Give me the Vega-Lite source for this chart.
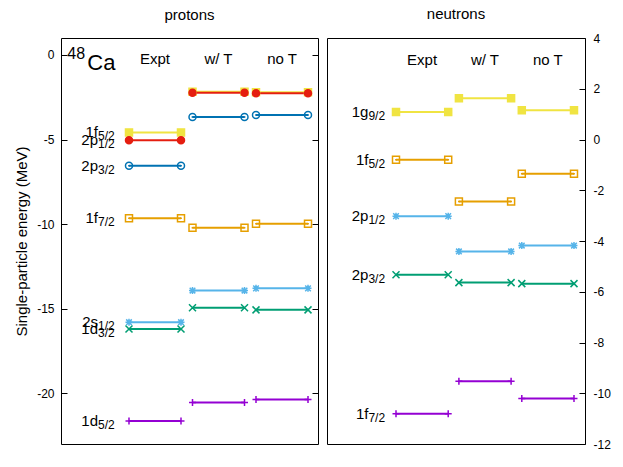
{
  "$schema": "https://vega.github.io/schema/vega-lite/v6.json",
  "padding": {"left": 14, "top": 6, "right": 2, "bottom": 2},
  "background": "white",
  "config": {
    "font": "Liberation Sans",
    "view": {"stroke": "#000000", "strokeWidth": 1},
    "axis": {"domain": false, "grid": false, "tickColor": "#000000", "tickWidth": 1, "labelColor": "#000000", "labelFont": "Liberation Sans", "labelFontSize": 12, "titleColor": "#000000", "titleFont": "Liberation Sans", "titleFontWeight": "normal", "titleFontSize": 15},
    "title": {"font": "Liberation Sans", "fontSize": 15, "fontWeight": "normal", "color": "#000000", "anchor": "middle", "frame": "group", "baseline": "bottom"}
  },
  "datasets": {
    "levels": [
      {"panel": "protons", "state": "1d5/2", "orb": "1d", "j": "5/2", "col": "Expt", "energy": -21.64},
      {"panel": "protons", "state": "1d5/2", "orb": "1d", "j": "5/2", "col": "w/ T", "energy": -20.55},
      {"panel": "protons", "state": "1d5/2", "orb": "1d", "j": "5/2", "col": "no T", "energy": -20.37},
      {"panel": "protons", "state": "1d3/2", "orb": "1d", "j": "3/2", "col": "Expt", "energy": -16.2},
      {"panel": "protons", "state": "1d3/2", "orb": "1d", "j": "3/2", "col": "w/ T", "energy": -14.95},
      {"panel": "protons", "state": "1d3/2", "orb": "1d", "j": "3/2", "col": "no T", "energy": -15.07},
      {"panel": "protons", "state": "2s1/2", "orb": "2s", "j": "1/2", "col": "Expt", "energy": -15.8},
      {"panel": "protons", "state": "2s1/2", "orb": "2s", "j": "1/2", "col": "w/ T", "energy": -13.93},
      {"panel": "protons", "state": "2s1/2", "orb": "2s", "j": "1/2", "col": "no T", "energy": -13.8},
      {"panel": "protons", "state": "1f7/2", "orb": "1f", "j": "7/2", "col": "Expt", "energy": -9.66},
      {"panel": "protons", "state": "1f7/2", "orb": "1f", "j": "7/2", "col": "w/ T", "energy": -10.22},
      {"panel": "protons", "state": "1f7/2", "orb": "1f", "j": "7/2", "col": "no T", "energy": -9.98},
      {"panel": "protons", "state": "1f5/2", "orb": "1f", "j": "5/2", "col": "Expt", "energy": -4.58},
      {"panel": "protons", "state": "1f5/2", "orb": "1f", "j": "5/2", "col": "w/ T", "energy": -2.17},
      {"panel": "protons", "state": "1f5/2", "orb": "1f", "j": "5/2", "col": "no T", "energy": -2.2},
      {"panel": "protons", "state": "2p3/2", "orb": "2p", "j": "3/2", "col": "Expt", "energy": -6.55},
      {"panel": "protons", "state": "2p3/2", "orb": "2p", "j": "3/2", "col": "w/ T", "energy": -3.67},
      {"panel": "protons", "state": "2p3/2", "orb": "2p", "j": "3/2", "col": "no T", "energy": -3.55},
      {"panel": "protons", "state": "2p1/2", "orb": "2p", "j": "1/2", "col": "Expt", "energy": -5.05},
      {"panel": "protons", "state": "2p1/2", "orb": "2p", "j": "1/2", "col": "w/ T", "energy": -2.23},
      {"panel": "protons", "state": "2p1/2", "orb": "2p", "j": "1/2", "col": "no T", "energy": -2.27},
      {"panel": "neutrons", "state": "1f7/2", "orb": "1f", "j": "7/2", "col": "Expt", "energy": -10.81},
      {"panel": "neutrons", "state": "1f7/2", "orb": "1f", "j": "7/2", "col": "w/ T", "energy": -9.53},
      {"panel": "neutrons", "state": "1f7/2", "orb": "1f", "j": "7/2", "col": "no T", "energy": -10.21},
      {"panel": "neutrons", "state": "2p3/2", "orb": "2p", "j": "3/2", "col": "Expt", "energy": -5.33},
      {"panel": "neutrons", "state": "2p3/2", "orb": "2p", "j": "3/2", "col": "w/ T", "energy": -5.64},
      {"panel": "neutrons", "state": "2p3/2", "orb": "2p", "j": "3/2", "col": "no T", "energy": -5.68},
      {"panel": "neutrons", "state": "2p1/2", "orb": "2p", "j": "1/2", "col": "Expt", "energy": -3.02},
      {"panel": "neutrons", "state": "2p1/2", "orb": "2p", "j": "1/2", "col": "w/ T", "energy": -4.41},
      {"panel": "neutrons", "state": "2p1/2", "orb": "2p", "j": "1/2", "col": "no T", "energy": -4.18},
      {"panel": "neutrons", "state": "1f5/2", "orb": "1f", "j": "5/2", "col": "Expt", "energy": -0.8},
      {"panel": "neutrons", "state": "1f5/2", "orb": "1f", "j": "5/2", "col": "w/ T", "energy": -2.44},
      {"panel": "neutrons", "state": "1f5/2", "orb": "1f", "j": "5/2", "col": "no T", "energy": -1.35},
      {"panel": "neutrons", "state": "1g9/2", "orb": "1g", "j": "9/2", "col": "Expt", "energy": 1.08},
      {"panel": "neutrons", "state": "1g9/2", "orb": "1g", "j": "9/2", "col": "w/ T", "energy": 1.63},
      {"panel": "neutrons", "state": "1g9/2", "orb": "1g", "j": "9/2", "col": "no T", "energy": 1.15}
    ]
  },
  "spacing": 7,
  "resolve": {"scale": {"color": "independent", "stroke": "independent", "fill": "independent", "shape": "independent"}},
  "hconcat": [
    {
      "width": 257,
      "height": 406,
      "title": {"text": "protons", "offset": 15},
      "data": {"name": "levels"},
      "transform": [{"filter": "datum.panel === 'protons'"}],
      "layer": [
        {
          "layer": [
            {
              "mark": {"type": "tick", "thickness": 2, "size": 52, "opacity": 1},
              "encoding": {
                "x": {"field": "col", "type": "nominal", "scale": {"type": "band", "domain": ["lab", "Expt", "w/ T", "no T"], "paddingInner": 0.181, "paddingOuter": 0.114, "align": 0.31}, "axis": null},
                "y": {"field": "energy", "type": "quantitative", "scale": {"domain": [-23, 1], "nice": false, "zero": false},
                      "axis": {"values": [0, -5, -10, -15, -20], "tickSize": -6, "labelPadding": 13, "labelExpr": "datum.value < 0 ? '-' + abs(datum.value) : '' + datum.value", "title": "Single-particle energy (MeV)", "titlePadding": 7}},
                "color": {"field": "state", "type": "nominal", "legend": null, "scale": {"domain": ["1d5/2", "1d3/2", "2s1/2", "1f7/2", "1f5/2", "2p3/2", "2p1/2"], "range": ["#9400d3", "#009e73", "#56b4e9", "#e69f00", "#f0e442", "#0072b2", "#e51e10"]}}
              }
            },
            {
              "mark": {"type": "point", "size": 49, "strokeWidth": 1.5, "opacity": 1},
              "encoding": {
                "x": {"field": "col", "type": "nominal", "bandPosition": 0},
                "y": {"field": "energy", "type": "quantitative"},
                "stroke": {"field": "state", "type": "nominal", "legend": null, "scale": {"domain": ["1d5/2", "1d3/2", "2s1/2", "1f7/2", "1f5/2", "2p3/2", "2p1/2"], "range": ["#9400d3", "#009e73", "#56b4e9", "#e69f00", "#f0e442", "#0072b2", "#e51e10"]}},
                "fill": {"field": "state", "type": "nominal", "legend": null, "scale": {"domain": ["1d5/2", "1d3/2", "2s1/2", "1f7/2", "1f5/2", "2p3/2", "2p1/2"], "range": ["transparent", "transparent", "transparent", "transparent", "#f0e442", "transparent", "#e51e10"]}},
                "shape": {"field": "state", "type": "nominal", "legend": null, "scale": {"domain": ["1d5/2", "1d3/2", "2s1/2", "1f7/2", "1f5/2", "2p3/2", "2p1/2"], "range": ["M-1,0H1M0,-1V1", "M-1,-1L1,1M-1,1L1,-1", "M-1,0H1M0,-1V1M-0.8,-0.8L0.8,0.8M-0.8,0.8L0.8,-0.8", "M-1,-1H1V1H-1ZM-0.25,0H0.25", "square", "M-1,0A1,1,0,1,0,1,0A1,1,0,1,0,-1,0ZM-0.25,0H0.25", "circle"]}}
              }
            },
            {
              "mark": {"type": "point", "size": 49, "strokeWidth": 1.5, "opacity": 1},
              "encoding": {
                "x": {"field": "col", "type": "nominal", "bandPosition": 1},
                "y": {"field": "energy", "type": "quantitative"},
                "stroke": {"field": "state", "type": "nominal", "legend": null},
                "fill": {"field": "state", "type": "nominal", "legend": null},
                "shape": {"field": "state", "type": "nominal", "legend": null}
              }
            },
            {
              "transform": [{"filter": "datum.col === 'Expt'"}],
              "mark": {"type": "text", "align": "right", "baseline": "middle", "fontSize": 15, "color": "#000000"},
              "encoding": {
                "x": {"datum": "lab", "type": "nominal", "bandPosition": 0.625},
                "y": {"field": "energy", "type": "quantitative"},
                "text": {"field": "orb"}
              }
            },
            {
              "transform": [{"filter": "datum.col === 'Expt'"}],
              "mark": {"type": "text", "align": "left", "baseline": "middle", "fontSize": 12, "dy": 4, "color": "#000000"},
              "encoding": {
                "x": {"datum": "lab", "type": "nominal", "bandPosition": 0.625},
                "y": {"field": "energy", "type": "quantitative"},
                "text": {"field": "j"}
              }
            },
            {
              "data": {"values": [{"col": "Expt"}, {"col": "w/ T"}, {"col": "no T"}]},
              "mark": {"type": "text", "baseline": "middle", "fontSize": 15, "color": "#000000"},
              "encoding": {
                "x": {"field": "col", "type": "nominal"},
                "y": {"datum": -0.25, "type": "quantitative"},
                "text": {"field": "col"}
              }
            },
            {
              "data": {"values": [{"t": "48"}]},
              "mark": {"type": "text", "align": "left", "baseline": "middle", "fontSize": 16, "color": "#000000"},
              "encoding": {
                "x": {"datum": "lab", "type": "nominal", "bandPosition": 0.035},
                "y": {"datum": 0.04, "type": "quantitative"},
                "text": {"field": "t"}
              }
            },
            {
              "data": {"values": [{"t": "Ca"}]},
              "mark": {"type": "text", "align": "left", "baseline": "middle", "fontSize": 22, "color": "#000000"},
              "encoding": {
                "x": {"datum": "lab", "type": "nominal", "bandPosition": 0.42},
                "y": {"datum": -0.47, "type": "quantitative"},
                "text": {"field": "t"}
              }
            }
          ]
        },
        {
          "mark": {"type": "point", "opacity": 0},
          "encoding": {
            "y": {"field": "energy", "type": "quantitative", "scale": {"domain": [-23, 1], "nice": false, "zero": false},
                  "axis": {"orient": "right", "values": [0, -5, -10, -15, -20], "labels": false, "tickSize": -6, "title": null}}
          }
        }
      ],
      "resolve": {"axis": {"y": "independent"}}
    },
    {
      "width": 258,
      "height": 406,
      "title": {"text": "neutrons", "offset": 10},
      "data": {"name": "levels"},
      "transform": [{"filter": "datum.panel === 'neutrons'"}],
      "layer": [
        {
          "mark": {"type": "tick", "thickness": 2, "size": 52.4, "opacity": 1},
          "encoding": {
            "x": {"field": "col", "type": "nominal", "scale": {"type": "band", "domain": ["lab", "Expt", "w/ T", "no T"], "paddingInner": 0.17, "paddingOuter": 0.136, "align": 0.357}, "axis": null},
            "y": {"field": "energy", "type": "quantitative", "scale": {"domain": [-12, 4], "nice": false, "zero": false},
                  "axis": {"orient": "right", "values": [4, 2, 0, -2, -4, -6, -8, -10, -12], "tickSize": -6, "labelPadding": 14, "labelAlign": "left", "labelExpr": "datum.value < 0 ? '-' + abs(datum.value) : '\u2004' + datum.value", "title": null}},
            "color": {"field": "state", "type": "nominal", "legend": null, "scale": {"domain": ["1f7/2", "2p3/2", "2p1/2", "1f5/2", "1g9/2"], "range": ["#9400d3", "#009e73", "#56b4e9", "#e69f00", "#f0e442"]}}
          }
        },
        {
          "mark": {"type": "point", "size": 49, "strokeWidth": 1.5, "opacity": 1},
          "encoding": {
            "x": {"field": "col", "type": "nominal", "bandPosition": 0},
            "y": {"field": "energy", "type": "quantitative"},
            "stroke": {"field": "state", "type": "nominal", "legend": null, "scale": {"domain": ["1f7/2", "2p3/2", "2p1/2", "1f5/2", "1g9/2"], "range": ["#9400d3", "#009e73", "#56b4e9", "#e69f00", "#f0e442"]}},
            "fill": {"field": "state", "type": "nominal", "legend": null, "scale": {"domain": ["1f7/2", "2p3/2", "2p1/2", "1f5/2", "1g9/2"], "range": ["transparent", "transparent", "transparent", "transparent", "#f0e442"]}},
            "shape": {"field": "state", "type": "nominal", "legend": null, "scale": {"domain": ["1f7/2", "2p3/2", "2p1/2", "1f5/2", "1g9/2"], "range": ["M-1,0H1M0,-1V1", "M-1,-1L1,1M-1,1L1,-1", "M-1,0H1M0,-1V1M-0.8,-0.8L0.8,0.8M-0.8,0.8L0.8,-0.8", "M-1,-1H1V1H-1ZM-0.25,0H0.25", "square"]}}
          }
        },
        {
          "mark": {"type": "point", "size": 49, "strokeWidth": 1.5, "opacity": 1},
          "encoding": {
            "x": {"field": "col", "type": "nominal", "bandPosition": 1},
            "y": {"field": "energy", "type": "quantitative"},
            "stroke": {"field": "state", "type": "nominal", "legend": null},
            "fill": {"field": "state", "type": "nominal", "legend": null},
            "shape": {"field": "state", "type": "nominal", "legend": null}
          }
        },
        {
          "transform": [{"filter": "datum.col === 'Expt'"}],
          "mark": {"type": "text", "align": "right", "baseline": "middle", "fontSize": 15, "color": "#000000"},
          "encoding": {
            "x": {"datum": "lab", "type": "nominal", "bandPosition": 0.676},
            "y": {"field": "energy", "type": "quantitative"},
            "text": {"field": "orb"}
          }
        },
        {
          "transform": [{"filter": "datum.col === 'Expt'"}],
          "mark": {"type": "text", "align": "left", "baseline": "middle", "fontSize": 12, "dy": 4, "color": "#000000"},
          "encoding": {
            "x": {"datum": "lab", "type": "nominal", "bandPosition": 0.676},
            "y": {"field": "energy", "type": "quantitative"},
            "text": {"field": "j"}
          }
        },
        {
          "data": {"values": [{"col": "Expt"}, {"col": "w/ T"}, {"col": "no T"}]},
          "mark": {"type": "text", "baseline": "middle", "fontSize": 15, "color": "#000000"},
          "encoding": {
            "x": {"field": "col", "type": "nominal"},
            "y": {"datum": 3.15, "type": "quantitative"},
            "text": {"field": "col"}
          }
        }
      ]
    }
  ]
}
